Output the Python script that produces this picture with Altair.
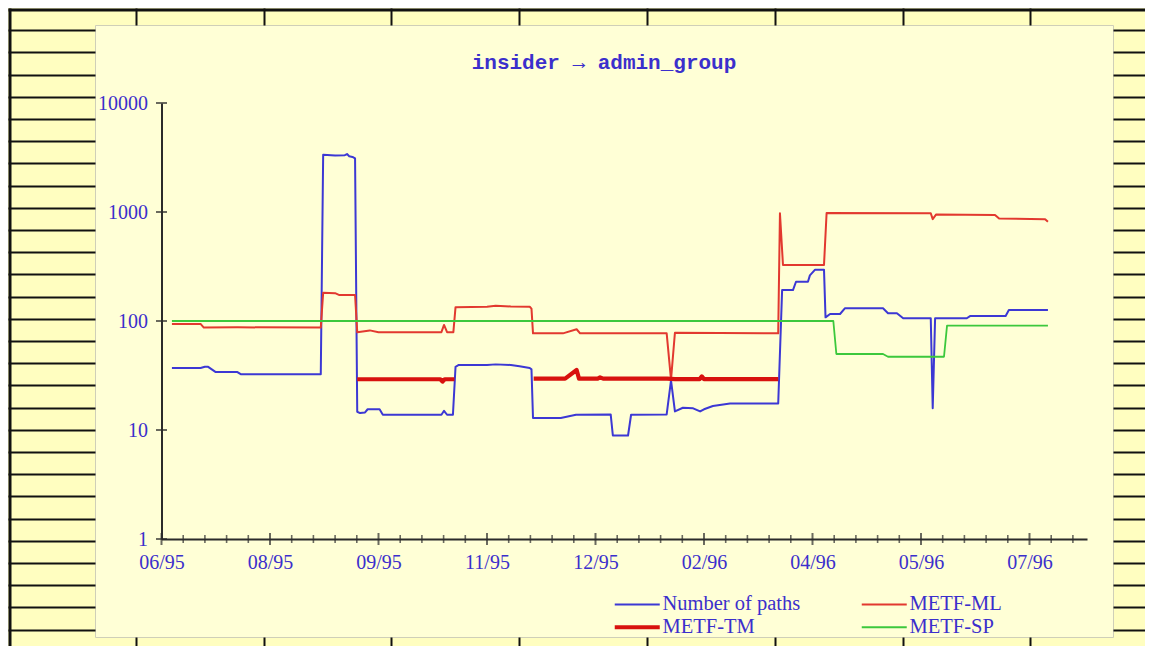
import altair as alt
import pandas as pd

# ---------------- data ----------------
TITLE = "insider \u2192 admin_group"
SERIES = ["Number of paths", "METF-ML", "METF-TM", "METF-SP"]
SERIES_COLORS = ["#3c38d4", "#e2392f", "#d8120e", "#3cc83c"]
SERIES_WIDTHS = [2.0, 2.0, 4.2, 1.8]

X_LABELS = ["06/95", "08/95", "09/95", "11/95", "12/95", "02/96", "04/96", "05/96", "07/96"]
X_MAJOR = [0, 5, 10, 15, 20, 25, 30, 35, 40]          # x measured in minor-tick units
X_MINOR = [i for i in range(1, 43) if i % 5 != 0]
X_END = 42.65
Y_TICKS = [1, 10, 100, 1000, 10000]

PATHS_T = [0.48, 1.8, 2.0, 2.15, 2.5, 3.5, 3.65, 7.34, 7.45, 8.0, 8.45, 8.55, 8.65, 8.8, 8.92,
           9.02, 9.15, 9.38, 9.5, 10.05, 10.2, 12.9, 13.02, 13.16, 13.43, 13.55, 13.7, 15.0, 15.4,
           16.1, 16.5, 16.97, 17.05, 17.12, 18.4, 19.1, 20.7, 20.8, 21.5, 21.64, 23.28, 23.48,
           23.66, 24.03, 24.5, 24.82, 25.0, 25.41, 26.2, 28.42, 28.6, 29.1, 29.24, 29.79, 29.88,
           30.12, 30.53, 30.6, 30.81, 31.27, 31.5, 33.25, 33.48, 33.89, 34.18, 35.45, 35.54,
           35.65, 37.11, 37.26, 38.9, 39.05, 40.85]
PATHS_V = [37, 37, 38, 38, 34, 34, 32.5, 32.5, 3350, 3300, 3320, 3400, 3250, 3200, 3100,
           14.7, 14.3, 14.5, 15.5, 15.5, 13.8, 13.8, 15.0, 13.8, 13.8, 38, 39.5, 39.5, 40,
           39.5, 38.5, 37, 36, 12.9, 12.9, 13.8, 13.9, 8.9, 8.9, 13.8, 13.9, 28.5,
           14.8, 16, 15.8, 14.8, 15.5, 16.6, 17.5, 17.5, 192, 192, 229, 229, 262,
           296, 296, 108, 116, 116, 131, 131, 118, 118, 106, 106, 15.8,
           106, 106, 111, 111, 126, 126]

ML_T = [0.48, 1.8, 1.95, 3.5, 7.34, 7.45, 8.0, 8.2, 8.92, 9.02, 9.6, 10.0, 12.9, 13.02, 13.16,
        13.45, 13.55, 15.0, 15.4, 16.1, 16.97, 17.05, 17.12, 18.5, 19.13, 19.29, 23.28, 23.48,
        23.66, 28.42, 28.5, 28.64, 30.53, 30.65, 35.45, 35.54, 35.7, 38.41, 38.6, 40.72, 40.85]
ML_V = [94, 94, 87, 87.5, 87, 182, 180, 173, 173, 79, 82, 79, 79, 92, 79,
        79, 134, 135, 138, 136, 135, 130, 77, 77, 84, 77, 77, 29,
        78, 77, 975, 326, 326, 980, 975, 860, 950, 940, 870, 860, 815]

TM1_T = [9.02, 12.85, 12.95, 13.05, 13.5]
TM1_V = [29.2, 29.2, 27.8, 29.2, 29.2]
TM2_T = [17.15, 18.6, 19.13, 19.24, 20.1, 20.21, 20.35, 23.3, 23.66, 24.8, 24.9, 25.0, 28.42]
TM2_V = [29.6, 29.6, 35.5, 29.6, 29.6, 30.4, 29.6, 29.6, 29.3, 29.3, 31, 29.3, 29.3]

SP_T = [0.48, 30.96, 31.1, 33.25, 33.48, 36.06, 36.2, 40.85]
SP_V = [100, 100, 49.8, 49.8, 47, 47, 90.7, 90.7]

# ---------------- styling ----------------
BLUE_TEXT = "#3b2fcc"
AXIS_COLOR = "#2b2b2b"
OUTER_BG = "#fffec0"
PANEL_BG = "#ffffd6"
PANEL_EDGE = "#cfcfb8"
SERIF = "Liberation Serif"
MONO = "Liberation Mono"

VIEW_W, VIEW_H = 1018, 612
X_RANGE = [66.5, 992]
Y_RANGE = [514, 78]

rows = []
for name, seg, ts, vs in [("Number of paths", "paths", PATHS_T, PATHS_V),
                          ("METF-ML", "ml", ML_T, ML_V),
                          ("METF-TM", "tm1", TM1_T, TM1_V),
                          ("METF-TM", "tm2", TM2_T, TM2_V),
                          ("METF-SP", "sp", SP_T, SP_V)]:
    for t, v in zip(ts, vs):
        rows.append({"series": name, "seg": seg, "t": t, "value": v})
df = pd.DataFrame(rows)

major_df = pd.DataFrame({"t": X_MAJOR, "value": [1] * len(X_MAJOR)})
minor_df = pd.DataFrame({"t": X_MINOR, "value": [1] * len(X_MINOR)})
ytick_df = pd.DataFrame({"t": [0] * len(Y_TICKS), "value": Y_TICKS})


def xscale():
    return alt.Scale(domain=[0, X_END], range=X_RANGE, nice=False, zero=False)


def yscale():
    return alt.Scale(type="log", domain=[1, 10000], range=Y_RANGE, nice=False)


label_expr = "[" + ",".join("'%s'" % s for s in X_LABELS) + "][round(datum.value / 5)]"

x_axis = alt.Axis(orient="bottom", offset=-98, values=X_MAJOR, labelExpr=label_expr,
                  ticks=False, tickSize=0, labelPadding=13, domain=True,
                  domainColor=AXIS_COLOR, domainWidth=2, grid=False, title=None,
                  labelFont=SERIF, labelFontSize=20, labelColor=BLUE_TEXT,
                  labelFlush=False, labelOverlap=False)
y_axis = alt.Axis(orient="left", offset=-66.5, values=Y_TICKS, format="d",
                  ticks=False, tickSize=0, labelPadding=14, domain=True,
                  domainColor=AXIS_COLOR, domainWidth=2, grid=False, title=None,
                  labelFont=SERIF, labelFontSize=20, labelColor=BLUE_TEXT,
                  labelOverlap=False)


def make_legend():
    return alt.Legend(title=None, orient="none", legendX=532, legendY=569, columns=2,
                      direction="horizontal", columnPadding=56, rowPadding=2,
                      symbolType="M-4,0H4", symbolSize=126.6,
                      labelFont=SERIF, labelFontSize=20.5, labelColor=BLUE_TEXT,
                      labelOffset=15, labelLimit=400)


lines = alt.Chart(df).mark_line(strokeJoin="round").encode(
    x=alt.X("t:Q", scale=xscale(), axis=x_axis),
    y=alt.Y("value:Q", scale=yscale(), axis=y_axis),
    color=alt.Color("series:N", scale=alt.Scale(domain=SERIES, range=SERIES_COLORS), legend=make_legend()),
    strokeWidth=alt.StrokeWidth("series:N", scale=alt.Scale(type="ordinal", domain=SERIES, range=SERIES_WIDTHS),
                                legend=make_legend()),
    detail="seg:N",
)

majors = alt.Chart(major_df).mark_tick(orient="vertical", size=12, thickness=2, color=AXIS_COLOR).encode(
    x=alt.X("t:Q", scale=xscale(), axis=None), y=alt.Y("value:Q", scale=yscale(), axis=None))
minors = alt.Chart(minor_df).mark_tick(orient="vertical", size=8, thickness=1.6, color=AXIS_COLOR).encode(
    x=alt.X("t:Q", scale=xscale(), axis=None), y=alt.Y("value:Q", scale=yscale(), axis=None))
yticks = alt.Chart(ytick_df).mark_tick(orient="horizontal", size=11, thickness=2, color=AXIS_COLOR).encode(
    x=alt.X("t:Q", scale=xscale(), axis=None), y=alt.Y("value:Q", scale=yscale(), axis=None))

# ---------------- decorative ruled background (drawn as axis ticks) ----------------
GX = [round(127.8 * k - 87, 1) for k in range(1, 9)]
GY = [round(22.2 * k - 17, 1) for k in range(1, 29)]
grid_df = pd.DataFrame({"gx": [0.0], "gy": [0.0]})


def gscale_x():
    return alt.Scale(domain=[-87, 1058], range=[-87, 1058], nice=False, zero=False)


def gscale_y():
    return alt.Scale(domain=[-17, 640], range=[-17, 640], nice=False, zero=False)


def deco_axis(orient, values=None, tick_size=0, offset=0, domain=False):
    kw = dict(orient=orient, labels=False, grid=False, title=None, offset=offset,
              domain=domain, domainColor="#111111", domainWidth=3,
              ticks=values is not None, tickColor="#111111", tickWidth=2, tickSize=tick_size)
    if values is not None:
        kw["values"] = values
    return alt.Axis(**kw)


gridA = alt.Chart(grid_df).mark_point(opacity=0).encode(
    x=alt.X("gx:Q", scale=gscale_x(), axis=deco_axis("top", GX, 17)),
    y=alt.Y("gy:Q", scale=gscale_y(), axis=deco_axis("left", GY, 87)))
gridB = alt.Chart(grid_df).mark_point(opacity=0).encode(
    x=alt.X("gx:Q", scale=gscale_x(), axis=deco_axis("bottom", GX, 9)),
    y=alt.Y("gy:Q", scale=gscale_y(), axis=deco_axis("right", GY, 40)))
gridC = alt.Chart(grid_df).mark_point(opacity=0).encode(
    x=alt.X("gx:Q", scale=gscale_x(), axis=deco_axis("top", offset=15.5, domain=True)),
    y=alt.Y("gy:Q", scale=gscale_y(), axis=deco_axis("left", offset=85.5, domain=True)))

chart = alt.layer(gridA, gridB, gridC, lines, majors, minors, yticks).resolve_scale(
    x="independent", y="independent").resolve_axis(x="independent", y="independent").properties(
    width=VIEW_W, height=VIEW_H,
    autosize=alt.AutoSizeParams(type="none"),
    padding={"left": 87, "top": 17, "right": 32, "bottom": 9},
    title=alt.Title(TITLE, font=MONO, fontSize=21, fontWeight="bold", color=BLUE_TEXT,
                    anchor="middle", frame="group", offset=-66),
).configure(background=OUTER_BG).configure_view(fill=PANEL_BG, stroke=PANEL_EDGE, strokeWidth=1)

chart.save("out.html", embed_options={"renderer": "svg", "actions": False})
